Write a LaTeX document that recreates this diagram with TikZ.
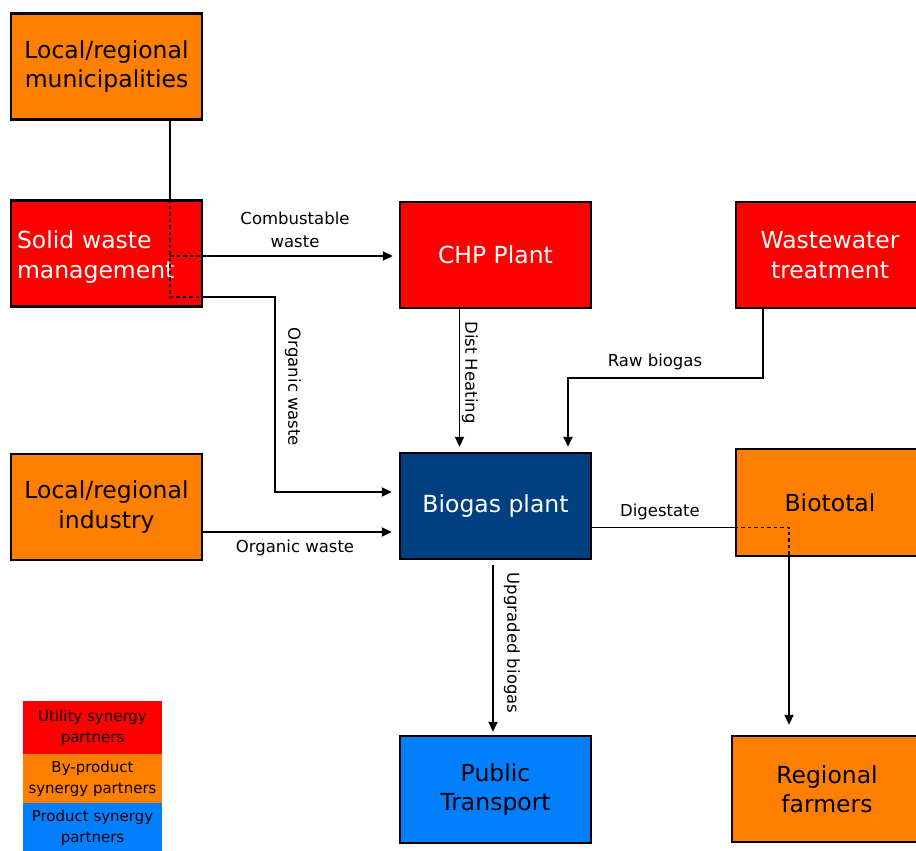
\documentclass[tikz,border=0pt]{standalone}
\usepackage{fontspec}
\setmainfont{DejaVu Sans}
\usetikzlibrary{arrows.meta}
\definecolor{cred}{RGB}{255,0,0}
\definecolor{corange}{RGB}{255,128,0}
\definecolor{cdarkblue}{RGB}{0,64,128}
\definecolor{cblue}{RGB}{0,128,255}
\begin{document}
\begin{tikzpicture}[x=1pt,y=-1pt,
  box/.style={draw=black, line width=2.4pt, minimum width=191pt, minimum height=106pt,
    inner sep=0pt, align=center, font=\fontsize{23.5}{29.5}\selectfont},
  redbox/.style={box, fill=cred, text=white},
  orangebox/.style={box, fill=corange, text=black},
  bluebox/.style={box, fill=cblue, text=black},
  darkbox/.style={box, fill=cdarkblue, text=white},
  conn/.style={draw=black, line width=1.8pt},
  arrowconn/.style={conn, -{Triangle[length=10pt,width=9pt]}},
  dotconn/.style={draw=black, line width=1.8pt, dash pattern=on 3.5pt off 3pt},
  lbl/.style={inner sep=0pt, align=center, font=\fontsize{16.5}{23.5}\selectfont},
  lgbox/.style={fill, minimum width=139pt, inner sep=0pt, align=center, text=black,
    font=\fontsize{15}{21}\selectfont}
]
\useasboundingbox (0,0) rectangle (916,851);

% boxes
\node[orangebox] (mun) at (106.5,66.5) {Local/regional\\municipalities};
\node[redbox, align=left, text width=179pt, inner xsep=6pt] (sw) at (106.5,253.5)
  {\raisebox{-4pt}[\height][\depth]{\begin{tabular}{@{}l@{}}Solid waste\\management\end{tabular}}};
\node[redbox] (chp) at (495.5,255) {CHP Plant};
\node[redbox, minimum width=188pt] (ww) at (830,255) {Wastewater\\treatment};
\node[orangebox] (ind) at (106.5,507) {Local/regional\\industry};
\node[darkbox] (bio) at (495.5,506) {Biogas plant};
\node[orangebox, minimum width=188pt, minimum height=107pt] (bt) at (830,502.5) {Biototal};
\node[bluebox, minimum height=107pt] (pt) at (495.5,789.5) {Public\\Transport};
\node[orangebox, minimum width=190pt] (rf) at (827,789) {Regional\\farmers};

% legend
\node[lgbox, fill=cred, minimum height=53pt] (lg1) at (92.5,727.5) {Utility synergy\\partners};
\node[lgbox, fill=corange, minimum height=49pt] (lg2) at (92.5,778.5) {By-product\\synergy partners};
\node[lgbox, fill=cblue, minimum height=50pt] (lg3) at (92.5,828) {Product synergy\\partners};

% junction coordinates
\coordinate (ja) at (170,256);
\coordinate (jb) at (170,297);
\coordinate (jc) at (275,492);
\coordinate (je) at (568,378);
\coordinate (jf) at (789,527.5);

% municipalities -> solid waste -> CHP / biogas
\draw[conn] (mun.south -| ja) -- (sw.north -| ja);
\draw[dotconn] (sw.north -| ja) -- (jb) -- (sw.east |- jb);
\draw[dotconn] (ja) -- (sw.east |- ja);
\draw[arrowconn, shorten >=6pt] (sw.east |- ja) -- (chp.west |- ja);
\node[lbl] (lcomb) at (295,230) {Combustable\\waste};
\draw[arrowconn, shorten >=7pt] (sw.east |- jb) -| (jc) -- (bio.west |- jc);
\node[lbl, rotate=-90] (lorg1) at (293,387) {Organic waste};

% industry -> biogas
\draw[arrowconn, shorten >=7pt] ([yshift=-26pt]ind.east |- bio.center) -- ([yshift=-26pt]bio.west);
\node[lbl] (lorg2) at (295,548) {Organic waste};

% CHP -> biogas
\draw[arrowconn, shorten >=5pt] ([xshift=-36pt]chp.south) -- ([xshift=-36pt]bio.north);
\node[lbl, rotate=-90] (ldist) at (470,372.5) {Dist Heating};

% wastewater -> biogas
\draw[arrowconn, shorten >=5pt] ([xshift=-67pt]ww.south) |- (je) -- (bio.north -| je);
\node[lbl] (lraw) at (655,362) {Raw biogas};

% biogas -> biototal -> farmers
\draw[conn] ([yshift=-21.5pt]bio.east) -- (bt.west |- jf);
\draw[dotconn] (bt.west |- jf) -- (jf) -- (bt.south -| jf);
\draw[arrowconn, shorten >=10pt] (bt.south -| jf) -- (rf.north -| jf);
\node[lbl] (ldig) at (660,512) {Digestate};

% biogas -> public transport
\draw[arrowconn, shorten <=5pt, shorten >=3pt] ([xshift=-2.5pt]bio.south) -- ([xshift=-2.5pt]pt.north);
\node[lbl, rotate=-90] (lupg) at (512,643) {Upgraded biogas};
\end{tikzpicture}
\end{document}
